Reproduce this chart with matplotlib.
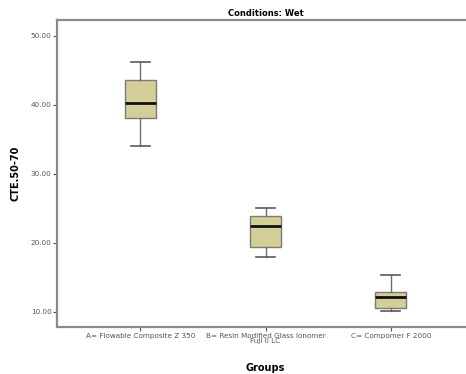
import matplotlib
matplotlib.use("Agg")
import matplotlib.pyplot as plt

# box statistics
groups = ["A= Flowable Composite Z 350",
          "B= Resin Modified Glass Ionomer\nFuji II LC",
          "C= Compomer F 2000"]
whislo = [34.1, 18.0, 10.1]
q1 = [38.1, 19.4, 10.6]
med = [40.3, 22.5, 12.2]
q3 = [43.6, 23.9, 12.9]
whishi = [46.2, 25.1, 15.4]
yticks = [10, 20, 30, 40, 50]

stats = []
for i in range(len(groups)):
    stats.append(dict(label=groups[i], whislo=whislo[i], q1=q1[i], med=med[i],
                      q3=q3[i], whishi=whishi[i], fliers=[]))

fig = plt.figure(figsize=(4.66, 3.74), dpi=100)
# axes runs slightly past the right edge like the original crop
ax = fig.add_axes([57 / 466, 47 / 374, 417 / 466, 307 / 374])

ax.bxp(stats, positions=[0, 1, 2], widths=0.25, patch_artist=True,
       boxprops=dict(facecolor="#d4cf98", edgecolor="#7a7a7a", linewidth=1.0),
       medianprops=dict(color="#111111", linewidth=2.0),
       whiskerprops=dict(color="#6e6e6e", linewidth=1.0),
       capprops=dict(color="#5a5a5a", linewidth=1.2),
       capwidths=0.15)

ax.set_xlim(-0.665, 2.665)
ax.set_ylim(7.8, 52.3)
ax.set_yticks(yticks)
ax.set_yticklabels(["%.2f" % v for v in yticks])

for s in ax.spines.values():
    s.set_color("#8a8a8a")
    s.set_linewidth(1.6)
ax.spines["right"].set_visible(False)

ax.tick_params(axis="both", labelsize=5.2, labelcolor="#555555", color="#555555",
               length=3, width=0.8, pad=1)
for lab in ax.get_xticklabels():
    lab.set_linespacing(0.8)

ax.set_title("Conditions: Wet", fontsize=6, fontweight="bold", pad=3)
ax.set_xlabel("Groups", fontsize=7, fontweight="bold", labelpad=14)
ax.set_ylabel("CTE.50-70", fontsize=7, fontweight="bold", labelpad=7)

fig.savefig("out.png", dpi=100)
